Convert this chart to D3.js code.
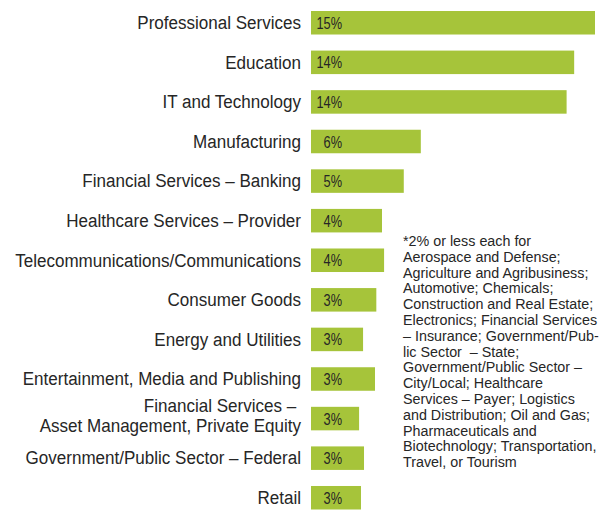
<!DOCTYPE html>
<html><head><meta charset="utf-8">
<script src="https://cdn.jsdelivr.net/npm/d3@7"></script>
<style>
html,body{margin:0;padding:0;background:#fff;}
text{font-family:"Liberation Sans",Arial,sans-serif;white-space:pre;}
</style></head>
<body><svg id="c" width="602" height="510"></svg>
<script>
const categories = [
  ["Professional Services"],
  ["Education"],
  ["IT and Technology"],
  ["Manufacturing"],
  ["Financial Services – Banking"],
  ["Healthcare Services – Provider"],
  ["Telecommunications/Communications"],
  ["Consumer Goods"],
  ["Energy and Utilities"],
  ["Entertainment, Media and Publishing"],
  ["Financial Services – ", "Asset Management, Private Equity"],
  ["Government/Public Sector – Federal"],
  ["Retail"]
];
const values = [15.0, 13.9, 13.5, 5.8, 4.9, 3.75, 3.86, 3.45, 2.75, 3.38, 2.54, 2.8, 2.64];
const valueLabels = ["15%","14%","14%","6%","5%","4%","4%","3%","3%","3%","3%","3%","3%"];
const footnote = [
  "*2% or less each for",
  "Aerospace and Defense;",
  "Agriculture and Agribusiness;",
  "Automotive; Chemicals;",
  "Construction and Real Estate;",
  "Electronics; Financial Services",
  "– Insurance; Government/Pub-",
  "lic Sector  – State;",
  "Government/Public Sector –",
  "City/Local; Healthcare",
  "Services – Payer; Logistics",
  "and Distribution; Oil and Gas;",
  "Pharmaceuticals and",
  "Biotechnology; Transportation,",
  "Travel, or Tourism"
];

const svg = d3.select("#c");
const keys = categories.map((c,i)=>i);
const y = d3.scaleBand().domain(keys).range([11, 509.5]).paddingInner(0.406).paddingOuter(0);
const x = d3.scaleLinear().domain([0, 15]).range([311, 595]);
const green = "#a6c43a";
const ink = "#262626";

svg.selectAll("rect.bar").data(values).join("rect")
  .attr("class","bar")
  .attr("x", x(0))
  .attr("y", (d,i)=>y(i))
  .attr("width", d=>x(d)-x(0))
  .attr("height", y.bandwidth())
  .attr("fill", green);

svg.selectAll("text.val").data(valueLabels).join("text")
  .attr("class","val")
  .attr("transform", (d,i)=>`translate(${x(0)+31},${y(i)+y.bandwidth()/2+6}) scale(0.8,1)`)
  .attr("text-anchor","end")
  .attr("font-size", 16)
  .attr("fill", ink)
  .text(d=>d);

const lab = svg.selectAll("g.cat").data(categories).join("g")
  .attr("class","cat")
  .attr("transform", (d,i)=>`translate(301,${y(i)+y.bandwidth()/2})`);
lab.each(function(lines){
  const g = d3.select(this);
  const multi = lines.length > 1;
  const fs = multi ? 17.5 : 19;
  const sx = multi ? 0.897*19/17.5 : 0.897;
  const lh = 19.6;
  const y0 = multi ? -6.5 : 6.3;
  lines.forEach((ln,j)=>{
    g.append("text")
      .attr("transform", `translate(0,${y0 + j*lh}) scale(${sx},1)`)
      .attr("text-anchor","end")
      .attr("font-size", fs)
      .attr("fill", ink)
      .text(ln);
  });
});

svg.append("g")
  .attr("transform","translate(403,0) scale(0.955,1)")
  .append("text")
  .attr("font-size", 15)
  .attr("fill", ink)
  .selectAll("tspan").data(footnote).join("tspan")
  .attr("x", 0)
  .attr("y", (d,i)=>246 + i*15.8)
  .text(d=>d);
</script></body></html>
